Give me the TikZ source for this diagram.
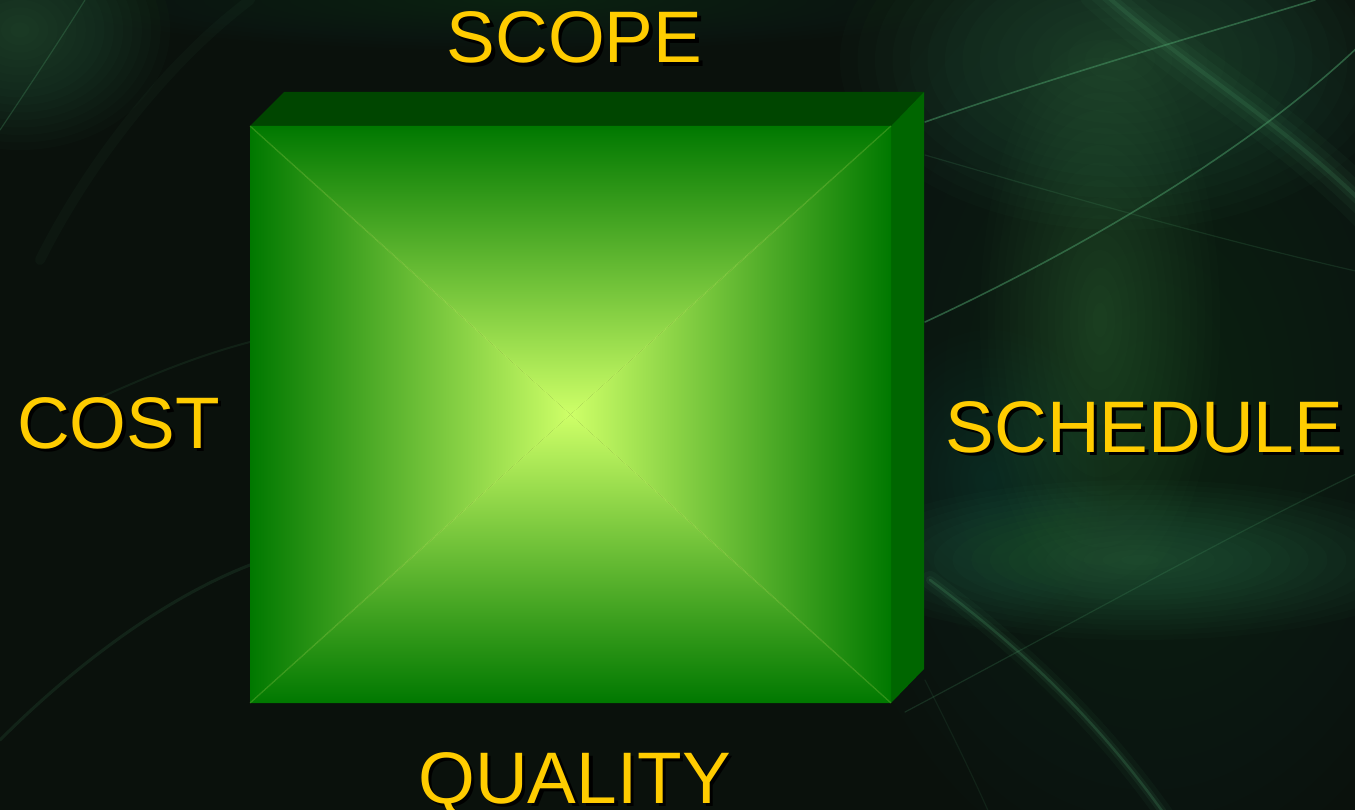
\documentclass[tikz,border=0pt]{standalone}
\usepackage{fontspec}
\setmainfont{Liberation Sans}

\definecolor{sfondo}{RGB}{10,17,12}
\definecolor{luce}{RGB}{72,150,100}
\definecolor{bordo}{RGB}{0,120,0}
\definecolor{mezzo}{RGB}{128,186,62}
\definecolor{centro}{RGB}{206,255,104}
\definecolor{cima}{RGB}{0,70,0}
\definecolor{fianco}{RGB}{0,102,0}
\definecolor{oro}{RGB}{255,204,0}

\begin{document}
\begin{tikzpicture}[x=1pt,y=-1pt,
    etichetta/.style={text=oro,font=\fontsize{73}{80}\selectfont,
                      inner sep=0pt,anchor=base},
    ombra/.style={etichetta,text=black},
    scia/.style={draw=luce,line cap=round,opacity=#1}]

  % ---- sfondo scuro con aloni e scie di luce -------------------------------
  \useasboundingbox (0,0) rectangle (1355,810);
  \fill[sfondo] (0,0) rectangle (1355,810);

  \foreach \cx/\cy/\rx/\ry/\op in {1150/400/330/480/0.012, 1120/60/280/170/0.026,
                                   1100/320/120/280/0.022, 1140/560/300/80/0.030,
                                   990/480/120/150/0.016, 20/30/150/120/0.028,
                                   520/0/460/50/0.012}
    \foreach \s in {0.0625,0.125,...,1.0}
      \fill[luce,opacity=\op] (\cx,\cy) ellipse ({\rx*\s} and {\ry*\s});

  % banda luminosa in alto a destra
  \draw[scia=0.05,line width=44pt] (1100,-10) .. controls (1190,70) and (1280,120) .. (1370,210);
  \draw[scia=0.07,line width=26pt] (1100,-10) .. controls (1190,70) and (1280,120) .. (1370,210);
  \draw[scia=0.10,line width=12pt] (1100,-10) .. controls (1190,70) and (1280,120) .. (1370,210);
  \draw[scia=0.18,line width=4pt]  (1100,-10) .. controls (1190,70) and (1280,120) .. (1370,210);

  % banda luminosa in basso a destra
  \draw[scia=0.06,line width=18pt] (930,580) .. controls (1010,640) and (1090,710) .. (1165,815);
  \draw[scia=0.10,line width=8pt]  (930,580) .. controls (1010,640) and (1090,710) .. (1165,815);
  \draw[scia=0.25,line width=2.5pt](930,580) .. controls (1010,640) and (1090,710) .. (1165,815);

  % fili sottili
  \draw[scia=0.55,line width=1.6pt] (925,122) .. controls (1060,75) and (1200,35) .. (1315,0);
  \draw[scia=0.55,line width=1.6pt] (925,322) .. controls (1080,250) and (1250,150) .. (1360,45);
  \draw[scia=0.18,line width=1.2pt] (925,155) .. controls (1080,200) and (1220,240) .. (1360,272);
  \draw[scia=0.22,line width=1.2pt] (905,712) .. controls (1060,630) and (1220,540) .. (1360,472);
  \draw[scia=0.12,line width=1.2pt] (925,680) .. controls (950,730) and (970,770) .. (990,815);
  \draw[scia=0.30,line width=1.2pt] (0,130) .. controls (30,85) and (60,40) .. (85,0);
  \draw[scia=0.14,line width=3pt]   (0,740) .. controls (70,670) and (160,600) .. (250,565);
  \draw[scia=0.12,line width=2pt]   (95,400) .. controls (150,375) and (200,355) .. (250,342);
  \draw[scia=0.05,line width=10pt]  (40,260) .. controls (90,160) and (170,60) .. (250,0);

  % ---- il blocco: faccia frontale, cima e fianco ---------------------------
  \coordinate (fa) at (250,126);
  \coordinate (fb) at (891,126);
  \coordinate (fc) at (891,703);
  \coordinate (fd) at (250,703);
  \coordinate (ra) at (284,92);
  \coordinate (rb) at (924,92);
  \coordinate (rc) at (924,669);
  \coordinate (cc) at (570.5,414.5);

  \fill[cima]   (fa) -- (ra) -- (rb) -- (fb) -- cycle;
  \fill[fianco] (fb) -- (rb) -- (rc) -- (fc) -- cycle;

  \shade[top color=bordo,middle color=mezzo,bottom color=centro] (fa) -- (fb) -- (cc) -- cycle;
  \shade[bottom color=bordo,middle color=mezzo,top color=centro] (fd) -- (fc) -- (cc) -- cycle;
  \shade[left color=bordo,middle color=mezzo,right color=centro] (fa) -- (fd) -- (cc) -- cycle;
  \shade[right color=bordo,middle color=mezzo,left color=centro] (fb) -- (fc) -- (cc) -- cycle;

  % spigoli interni appena piu' chiari
  \draw[centro,opacity=0.22,line width=1.2pt] (fa) -- (fc);
  \draw[centro,opacity=0.22,line width=1.2pt] (fb) -- (fd);

  % ---- le quattro voci -----------------------------------------------------
  \node[ombra]     (scope-o)    at (578,66.5)    {SCOPE};
  \node[etichetta] (scope)      at (574.5,63)    {SCOPE};
  \node[ombra]     (cost-o)     at (122,451.5)   {COST};
  \node[etichetta] (cost)       at (118.5,448)   {COST};
  \node[ombra]     (schedule-o) at (1148,455.5)  {SCHEDULE};
  \node[etichetta] (schedule)   at (1144.5,452)  {SCHEDULE};
  \node[ombra]     (quality-o)  at (578,806.5)   {QUALITY};
  \node[etichetta] (quality)    at (574.5,803)   {QUALITY};

\end{tikzpicture}
\end{document}
